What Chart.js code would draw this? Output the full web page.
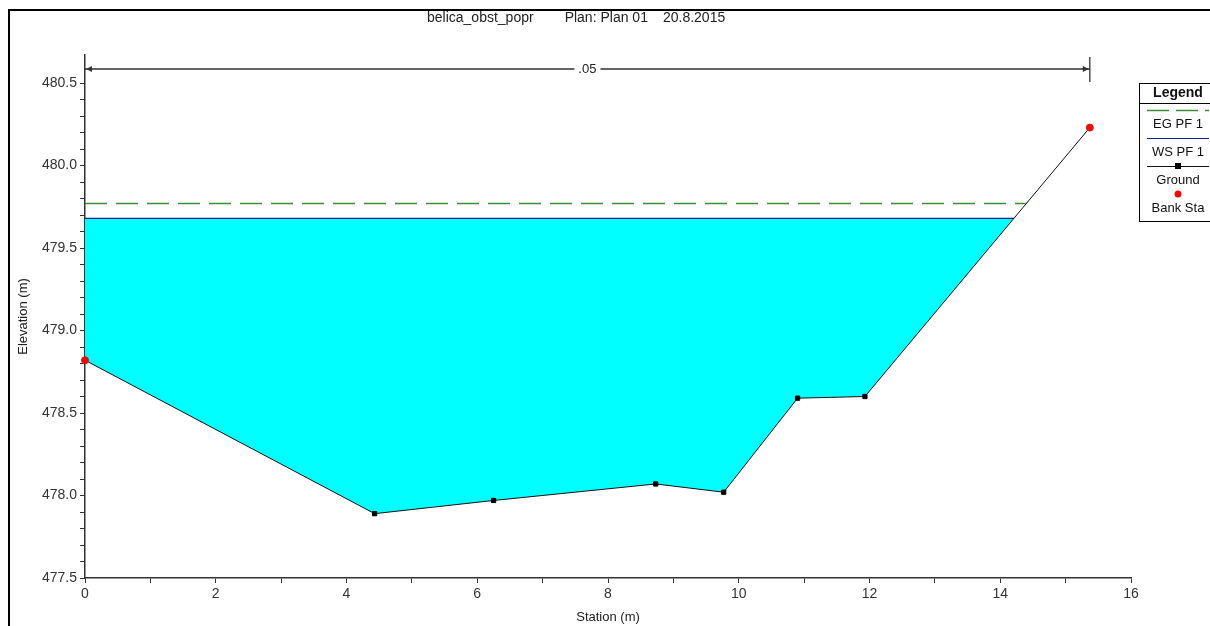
<!DOCTYPE html>
<html>
<head>
<meta charset="utf-8">
<script src="https://cdn.jsdelivr.net/npm/chart.js@4.4.0/dist/chart.umd.min.js"></script>
<style>
  html, body { margin: 0; padding: 0; background: #fff; overflow: hidden; }
  #frame { position: absolute; left: 8px; top: 9px; width: 1300px; height: 700px; border: 2px solid #000; box-sizing: border-box; }
  #wrap { position: absolute; left: 0; top: 0; width: 1210px; height: 626px; }
</style>
</head>
<body>
<div id="frame"></div>
<div id="wrap"><canvas id="myChart" width="1210" height="626"></canvas></div>
<script>
// cross section data
const stations = [0, 4.43, 6.25, 8.73, 9.77, 10.9, 11.93, 15.37];
const groundElev = [478.82, 477.89, 477.97, 478.07, 478.02, 478.59, 478.60, 480.23];
const bankStations = [0, 15.37];
const bankElev = [478.82, 480.23];
const wsStations = [0, 14.21];
const wsElev = [479.68, 479.68];
const egStations = [0, 14.39];
const egElev = [479.77, 479.77];
const nStations = [0, 15.37];
const nValues = ['.05'];
const titleParts = ['belica_obst_popr', 'Plan: Plan 01', '20.8.2015'];

const FONT = '"Liberation Sans", Arial, sans-serif';

function pts(xs, ys) {
    return xs.map((v, i) => ({x: v, y: ys[i]}));
}

const overlay = {
    id: 'overlay',
    afterDraw(chart) {
        const ctx = chart.ctx;
        const a = chart.chartArea;
        const sx = chart.scales.x;
        ctx.save();

        // title
        ctx.font = '14px ' + FONT;
        ctx.fillStyle = '#222';
        ctx.textBaseline = 'middle';
        ctx.textAlign = 'left';
        const gaps = [31, 15];
        let tx = 427;
        titleParts.forEach((t, i) => {
            ctx.fillText(t, tx, 18);
            tx += ctx.measureText(t).width + (gaps[i] || 0);
        });

        // manning's n dimension line
        const x0 = sx.getPixelForValue(nStations[0]);
        const x1 = sx.getPixelForValue(nStations[1]);
        const ny = a.top + 14;
        ctx.strokeStyle = '#333';
        ctx.fillStyle = '#333';
        ctx.lineWidth = 1.3;
        ctx.beginPath();
        ctx.moveTo(x0, ny); ctx.lineTo(x1, ny);
        ctx.moveTo(x1, a.top + 2); ctx.lineTo(x1, a.top + 27);
        ctx.stroke();
        ctx.beginPath();
        ctx.moveTo(x0 + 1, ny); ctx.lineTo(x0 + 7, ny - 3); ctx.lineTo(x0 + 7, ny + 3); ctx.closePath();
        ctx.moveTo(x1 - 1, ny); ctx.lineTo(x1 - 7, ny - 3); ctx.lineTo(x1 - 7, ny + 3); ctx.closePath();
        ctx.fill();
        ctx.font = '13px ' + FONT;
        ctx.textAlign = 'center';
        const mid = (x0 + x1) / 2;
        const w = ctx.measureText(nValues[0]).width + 8;
        ctx.fillStyle = '#fff';
        ctx.fillRect(mid - w / 2, ny - 8, w, 16);
        ctx.fillStyle = '#222';
        ctx.fillText(nValues[0], mid, ny);

        // legend box
        const lx = a.right + 8, ly = 83;
        ctx.strokeStyle = '#000';
        ctx.lineWidth = 1;
        ctx.strokeRect(lx + 0.5, ly + 0.5, 90, 138);
        ctx.beginPath();
        ctx.moveTo(lx, ly + 20.5); ctx.lineTo(lx + 90, ly + 20.5);
        ctx.stroke();
        ctx.fillStyle = '#111';
        ctx.font = 'bold 14px ' + FONT;
        ctx.fillText('Legend', lx + 39, ly + 10);
        ctx.font = '13px ' + FONT;
        const order = [3, 2, 1, 0];
        order.forEach((di, i) => {
            const ds = chart.data.datasets[di];
            const sy = ly + 27 + 28 * i;
            if (ds.showLine !== false) {
                ctx.save();
                ctx.strokeStyle = ds.borderColor;
                ctx.lineWidth = ds.borderWidth;
                ctx.setLineDash(ds.borderDash ? [22, 7] : []);
                ctx.beginPath();
                ctx.moveTo(lx + 8, sy + 0.5); ctx.lineTo(lx + 70, sy + 0.5);
                ctx.stroke();
                ctx.restore();
            }
            if (ds.legendMarker) {
                ctx.fillStyle = ds.pointBackgroundColor;
                if (ds.pointStyle === 'rect') {
                    ctx.fillRect(lx + 36, sy - 3, 6, 6);
                } else {
                    ctx.beginPath();
                    ctx.arc(lx + 39, sy, 3.5, 0, Math.PI * 2);
                    ctx.fill();
                }
            }
            ctx.fillStyle = '#111';
            ctx.fillText(ds.label, lx + 39, sy + 14);
        });
        ctx.restore();
    }
};

const ctx = document.getElementById('myChart').getContext('2d');

var XSection = new Chart(ctx, {
    type: 'line',
    data: {
        datasets: [{
            label: 'Bank Sta',
            data: pts(bankStations, bankElev),
            showLine: false,
            clip: false,
            pointStyle: 'circle',
            pointRadius: 3.5,
            pointBackgroundColor: '#e41010',
            pointBorderColor: '#e41010',
            legendMarker: true
        }, {
            label: 'Ground',
            data: pts(stations, groundElev),
            borderColor: '#111',
            borderWidth: 1,
            pointStyle: 'rect',
            pointRadius: 3,
            pointBackgroundColor: '#000',
            pointBorderColor: '#000',
            legendMarker: true,
            fill: false
        }, {
            label: 'WS PF 1',
            data: pts(wsStations, wsElev),
            borderColor: '#10209a',
            borderWidth: 1.2,
            pointRadius: 0,
            backgroundColor: '#00ffff',
            fill: 1
        }, {
            label: 'EG PF 1',
            data: pts(egStations, egElev),
            borderColor: '#3c8a3c',
            borderWidth: 1.6,
            borderDash: [22, 9],
            pointRadius: 0,
            fill: false
        }]
    },
    options: {
        responsive: false,
        animation: false,
        layout: {padding: {left: 0, top: 55, right: 79, bottom: 0}},
        plugins: {
            legend: {display: false},
            tooltip: {enabled: false},
            filler: {drawTime: 'beforeDatasetsDraw'}
        },
        scales: {
            x: {
                type: 'linear',
                min: 0,
                max: 16,
                afterFit(s) { s.height = 48; },
                border: {color: '#333', width: 1.5},
                grid: {drawOnChartArea: false, drawTicks: true, tickLength: 5, color: '#333'},
                ticks: {
                    stepSize: 1,
                    autoSkip: false,
                    maxRotation: 0,
                    color: '#333',
                    font: {family: FONT, size: 14},
                    callback: v => (v % 2 === 0 ? String(v) : '')
                },
                title: {display: true, text: 'Station (m)', color: '#222', font: {family: FONT, size: 13}, padding: {top: 1, bottom: 1}}
            },
            y: {
                type: 'linear',
                min: 477.5,
                max: 480.67,
                afterFit(s) { s.width = 85; },
                border: {color: '#333', width: 1.5},
                grid: {
                    drawOnChartArea: false,
                    drawTicks: true,
                    tickLength: 5,
                    color: c => (c.tick && Math.abs(c.tick.value * 10 - Math.round(c.tick.value * 10)) < 1e-6 ? '#333' : 'rgba(0,0,0,0)')
                },
                ticks: {
                    stepSize: 0.1,
                    autoSkip: false,
                    color: '#333',
                    font: {family: FONT, size: 14},
                    callback: v => (Math.abs(v * 2 - Math.round(v * 2)) < 1e-6 ? v.toFixed(1) : '')
                },
                title: {display: true, text: 'Elevation (m)', color: '#222', font: {family: FONT, size: 13}, padding: {top: 16, bottom: 0}}
            }
        }
    },
    plugins: [overlay]
});
</script>
</body>
</html>
